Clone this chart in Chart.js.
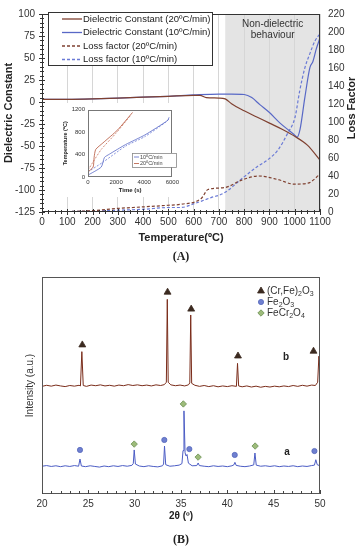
<!DOCTYPE html>
<html>
<head>
<meta charset="utf-8">
<script src="https://cdn.jsdelivr.net/npm/chart.js@4.4.0/dist/chart.umd.min.js"></script>
<style>
  html, body { margin: 0; padding: 0; background: #fff; }
  body { width: 362px; height: 550px; position: relative; overflow: hidden; font-family: "Liberation Sans", Arial, sans-serif; }
  .box { position: absolute; }
  #boxA { left: 0; top: 0; width: 362px; height: 250px; }
  #boxIn { left: 60px; top: 103px; width: 121px; height: 94px; background: #fff; }
  #boxB { left: 0; top: 262px; width: 362px; height: 288px; }
  .tag { position: absolute; left: 0; width: 362px; text-align: center; font: bold 12px "Liberation Serif", serif; color: #222; }
</style>
</head>
<body>
<div class="box" id="boxA"><canvas id="chartA" width="362" height="250"></canvas></div>
<div class="box" id="boxIn"><canvas id="chartIn" width="121" height="94"></canvas></div>
<div class="tag" style="top:249px">(A)</div>
<div class="box" id="boxB"><canvas id="chartB" width="362" height="288"></canvas></div>
<div class="tag" style="top:532px">(B)</div>

<script>
// ---------- (A) dielectric properties vs temperature ----------
const tempDC20 = [0, 100, 200, 300, 400, 500, 600, 625, 650, 700, 725, 750, 800, 850, 900, 950, 1000, 1050, 1100];
const dc20     = [3, 3, 3.5, 4.5, 5.5, 6.5, 7.5, 7.5, 5, 4.5, 3.5, -2, -10, -17, -24, -31, -39, -49, -66];

const tempDC10 = [0, 100, 200, 300, 400, 500, 600, 700, 750, 800, 830, 862, 900, 942, 980, 1001, 1009, 1021, 1040, 1060, 1072, 1085, 1100];
const dc10     = [3, 3, 3.5, 4.5, 5.5, 6.5, 8, 9, 9, 8.5, 5, -3, -12, -24, -33, -38, -40, -31, 5, 39, 46, 60, 73];

const tempLF20 = [0, 100, 200, 300, 360, 500, 550, 630, 657, 720, 795, 855, 934, 997, 1052, 1100];
const lf20     = [0, 0.5, 1.5, 4, 5, 7.5, 8.6, 15, 25, 27, 36, 40, 36, 31, 32, 42];

const tempLF10 = [0, 100, 200, 300, 400, 500, 550, 600, 669, 720, 795, 850, 898, 934, 973, 1001, 1020, 1040, 1060, 1080, 1100];
const lf10     = [0, 0.5, 1, 2, 3, 5, 5, 9, 16, 21, 38, 50, 59, 69, 88, 105, 135, 160, 176, 190, 198];

const bandStart = 725;
const labelsA = ['Dielectric Constant (20ºC/min)', 'Dielectric Constant (10ºC/min)', 'Loss factor (20ºC/min)', 'Loss factor (10ºC/min)'];

// inset: heating curves
const timeR20 = [0, 365, 434, 550, 1055, 2090, 3170];
const tR20    = [91, 177, 348, 491, 605, 834, 1149];
const timeR20d = [0, 345, 944, 1980, 3010];
const tR20d    = [120, 262, 491, 777, 1091];
const timeR10 = [0, 940, 1170, 1520, 2670, 4050, 5660, 5770];
const tR10    = [34, 177, 348, 406, 577, 749, 1006, 1063];
const timeR10d = [0, 1055, 2670, 4050, 5540, 5770];
const tR10d    = [91, 262, 549, 720, 977, 1034];
const labelsIn = ['10ºC/min', '20ºC/min'];

// ---------- (B) XRD patterns ----------
const thetaB = [20.0, 20.5, 21.0, 21.5, 22.0, 22.5, 23.0, 23.5, 24.0, 24.15, 24.3, 24.45, 24.8, 25.3, 25.8, 26.3, 26.8, 27.3, 27.8, 28.3,
  28.8, 29.3, 29.8, 30.3, 30.8, 31.3, 31.8, 32.3, 32.8, 33.2, 33.42, 33.52, 33.62, 33.9, 34.4, 34.9, 35.4, 35.8, 35.95, 36.05,
  36.15, 36.5, 37.0, 37.5, 38.0, 38.5, 39.0, 39.5, 40.0, 40.5, 40.98, 41.1, 41.22, 41.6, 42.1, 42.6, 43.1, 43.6, 44.1, 44.6,
  45.1, 45.6, 46.1, 46.6, 47.1, 47.6, 48.1, 48.6, 49.1, 49.5, 49.75, 49.88, 50.0];
const intB = [49.6, 50.1, 49.7, 50.2, 49.8, 49.5, 50.0, 49.7, 50.1, 49.8, 65.6, 50.0, 49.6, 50.2, 49.9, 50.3, 49.8, 50.1, 49.7, 50.2,
  49.9, 50.4, 50.0, 50.3, 49.9, 50.2, 49.8, 50.3, 50.0, 50.4, 51.5, 89.7, 51.5, 50.3, 49.9, 50.2, 49.8, 50.3, 51.2, 82.5,
  51.0, 50.1, 49.6, 50.0, 49.5, 49.9, 49.4, 49.8, 49.5, 49.9, 49.6, 60.2, 49.8, 49.4, 49.8, 49.3, 49.7, 49.2, 49.6, 49.3,
  49.7, 49.4, 49.8, 49.5, 50.0, 49.6, 50.1, 49.7, 50.2, 50.0, 51.5, 63.5, 57];

const thetaA = [20.0, 20.5, 21.0, 21.5, 22.0, 22.5, 23.0, 23.5, 23.95, 24.1, 24.25, 24.7, 25.2, 25.7, 26.2, 26.7, 27.2, 27.7, 28.2, 28.7,
  29.2, 29.7, 29.85, 29.95, 30.08, 30.5, 31.0, 31.5, 32.0, 32.5, 33.0, 33.12, 33.22, 33.35, 33.8, 34.3, 34.8, 35.1, 35.22, 35.32,
  35.44, 35.55, 35.65, 35.8, 36.2, 36.7, 36.85, 36.98, 37.5, 38.0, 38.5, 39.0, 39.5, 40.0, 40.5, 40.7, 40.82, 40.95, 41.4, 41.9,
  42.4, 42.85, 42.98, 43.12, 43.6, 44.1, 44.6, 45.1, 45.6, 46.1, 46.6, 47.1, 47.6, 48.1, 48.6, 49.1, 49.4, 49.55, 49.7, 50.0];
const intA = [12.8, 13.1, 12.7, 13.0, 12.6, 13.0, 12.7, 13.1, 12.8, 16.1, 12.9, 12.6, 13.0, 12.7, 12.4, 12.9, 12.6, 13.0, 12.7, 13.1,
  12.8, 13.2, 14.0, 20.3, 13.8, 12.9, 12.6, 13.0, 12.7, 12.5, 13.0, 13.8, 22.1, 13.5, 12.8, 13.0, 13.3, 14.0, 20.0, 38.3,
  19.0, 17.5, 18.2, 14.2, 13.0, 13.1, 14.3, 13.1, 12.8, 12.6, 13.0, 12.7, 12.9, 12.6, 13.0, 13.4, 14.6, 13.2, 12.8, 12.6,
  12.9, 13.4, 18.9, 13.3, 12.8, 13.0, 12.7, 13.0, 12.6, 12.9, 12.7, 13.0, 12.6, 12.9, 12.7, 13.1, 13.3, 15.8, 13.5, 13.0];

// phase markers
const triTheta = [24.35, 33.55, 36.1, 41.15, 49.3];
const triY     = [68.7, 93.0, 85.2, 63.6, 65.8];
const cirTheta = [24.1, 33.2, 35.9, 40.8, 49.4];
const cirY     = [20.3, 24.9, 20.7, 18.0, 19.8];
const diaTheta = [29.95, 35.25, 36.85, 43.0];
const diaY     = [23.0, 41.5, 17.0, 22.1];
const labelsB  = ['(Cr,Fe)_2O_3', 'Fe_2O_3', 'FeCr_2O_4'];

const BROWN = '#7f4030', BLUE = '#5868c6', BLUE_D = '#6a7ad6';
const XRD_B = '#7a2c1a', XRD_A = '#4b5cc4';
const TRI = '#3b2a20', CIR = '#6f80d0', DIA = '#9dbb7a';
const FONT = '"Liberation Sans", Arial, sans-serif';

Chart.defaults.font.family = FONT;
Chart.defaults.color = '#333';
Chart.defaults.animation = false;

const pts = (xs, ys) => xs.map((x, i) => ({ x, y: ys[i] }));
const plain = v => String(v);   // no thousands separator

function lineSet(label, xs, ys, color, dash, axis) {
  return {
    label, data: pts(xs, ys), borderColor: color, borderWidth: 1.2, borderDash: dash,
    pointRadius: 0, cubicInterpolationMode: 'monotone', yAxisID: axis, fill: false
  };
}

// draw a label where "_n" means subscript n
function drawSubText(ctx, txt, x, y, size) {
  txt.split(/(_\d)/).forEach(part => {
    if (!part) return;
    const sub = part[0] === '_';
    const s = sub ? part.slice(1) : part;
    ctx.font = (sub ? size * 0.7 : size) + 'px ' + FONT;
    ctx.fillText(s, x, sub ? y + size * 0.3 : y);
    x += ctx.measureText(s).width;
  });
}

function frame(ctx, a, color) {
  ctx.strokeStyle = color;
  ctx.lineWidth = 1;
  ctx.strokeRect(Math.round(a.left) + 0.5, Math.round(a.top) + 0.5, Math.round(a.right - a.left) - 1, Math.round(a.bottom - a.top) - 1);
}

// ---------- chart A ----------
const decoA = {
  id: 'decoA',
  beforeDraw(chart) {
    const { ctx, chartArea: a, scales } = chart;
    const x0 = scales.x.getPixelForValue(bandStart);
    ctx.save();
    ctx.fillStyle = '#e4e4e4';
    ctx.fillRect(x0, a.top, a.right - x0, a.bottom - a.top);
    ctx.restore();
  },
  afterDraw(chart) {
    const { ctx, chartArea: a, scales } = chart;
    ctx.save();
    frame(ctx, a, '#333');
    // minor ticks on left and bottom axes
    ctx.beginPath();
    for (let v = -125; v <= 100; v += 5) {
      const y = Math.round(scales.y.getPixelForValue(v)) + 0.5, len = v % 25 === 0 ? 3 : 2;
      ctx.moveTo(a.left - len, y); ctx.lineTo(a.left + len, y);
    }
    for (let v = 0; v <= 1100; v += 25) {
      const x = Math.round(scales.x.getPixelForValue(v)) + 0.5, len = v % 100 === 0 ? 3 : 2;
      ctx.moveTo(x, a.bottom - len); ctx.lineTo(x, a.bottom + len);
    }
    ctx.stroke();

    // band caption
    const x0 = scales.x.getPixelForValue(bandStart);
    ctx.fillStyle = '#333';
    ctx.font = '10px ' + FONT;
    ctx.textAlign = 'center';
    ctx.textBaseline = 'middle';
    ctx.fillText('Non-dielectric', (x0 + a.right) / 2, 24);
    ctx.fillText('behaviour', (x0 + a.right) / 2, 35);

    // legend
    ctx.fillStyle = '#fff';
    ctx.fillRect(48, 12, 164, 53);
    ctx.strokeStyle = '#333';
    ctx.strokeRect(48.5, 12.5, 164, 53);
    ctx.textAlign = 'left';
    ctx.font = '9.5px ' + FONT;
    const rows = [19, 32.5, 46, 59.5];
    chart.data.datasets.forEach((ds, i) => {
      ctx.strokeStyle = ds.borderColor;
      ctx.lineWidth = 1.3;
      ctx.setLineDash(ds.borderDash || []);
      ctx.beginPath(); ctx.moveTo(62, rows[i]); ctx.lineTo(82, rows[i]); ctx.stroke();
      ctx.setLineDash([]);
      ctx.fillStyle = '#222';
      ctx.fillText(labelsA[i], 83, rows[i]);
    });

    // right axis title, reading upwards
    ctx.translate(352, 108);
    ctx.rotate(-Math.PI / 2);
    ctx.textAlign = 'center';
    ctx.font = 'bold 11px ' + FONT;
    ctx.fillStyle = '#222';
    ctx.fillText('Loss Factor', 0, 0);
    ctx.restore();
  }
};

new Chart(document.getElementById('chartA'), {
  type: 'line',
  data: {
    datasets: [
      lineSet(labelsA[0], tempDC20, dc20, BROWN, [], 'y'),
      lineSet(labelsA[1], tempDC10, dc10, BLUE, [], 'y'),
      lineSet(labelsA[2], tempLF20, lf20, BROWN, [3, 2], 'y2'),
      lineSet(labelsA[3], tempLF10, lf10, BLUE_D, [3, 2], 'y2')
    ]
  },
  options: {
    responsive: false,
    devicePixelRatio: 1,
    layout: { padding: { top: 7, left: 0, right: 0, bottom: 0 } },
    plugins: { legend: { display: false }, tooltip: { enabled: false } },
    scales: {
      x: {
        type: 'linear', min: 0, max: 1100,
        ticks: { stepSize: 100, padding: 4, font: { size: 10 }, color: '#333', autoSkip: false, maxRotation: 0, callback: plain },
        grid: { color: '#d6d6d6', drawTicks: false },
        border: { display: false },
        title: { display: true, text: 'Temperature(ºC)', font: { size: 11, weight: 'bold' }, color: '#222', padding: { top: 0, bottom: 5 } },
        afterFit: s => { s.height = 38; }
      },
      y: {
        position: 'left', min: -125, max: 100,
        ticks: { stepSize: 25, padding: 7, font: { size: 10 }, color: '#333', callback: plain },
        grid: { display: false, drawTicks: false },
        border: { display: false },
        title: { display: true, text: 'Dielectric Constant', font: { size: 11, weight: 'bold' }, color: '#222', padding: { top: 2, bottom: 0 } },
        afterFit: s => { s.width = 42; }
      },
      y2: {
        position: 'right', min: 0, max: 220,
        ticks: { stepSize: 20, padding: 8, font: { size: 10 }, color: '#333', callback: plain },
        grid: { display: false, drawTicks: false },
        border: { display: false },
        afterFit: s => { s.width = 42; }
      }
    }
  },
  plugins: [decoA]
});

// ---------- inset ----------
const decoIn = {
  id: 'decoIn',
  afterDraw(chart) {
    const { ctx, chartArea: a } = chart;
    ctx.save();
    frame(ctx, a, '#777');
    ctx.fillStyle = '#fff';
    ctx.fillRect(72, 50, 45, 14);
    ctx.strokeStyle = '#888';
    ctx.lineWidth = 0.8;
    ctx.strokeRect(72.5, 50.5, 44, 14);
    ctx.font = '5.5px ' + FONT;
    ctx.textBaseline = 'middle';
    const rows = [54, 60.5];
    [BLUE, '#b5543a'].forEach((c, i) => {
      ctx.strokeStyle = c;
      ctx.beginPath(); ctx.moveTo(74, rows[i]); ctx.lineTo(79, rows[i]); ctx.stroke();
      ctx.fillStyle = '#444';
      ctx.fillText(labelsIn[i], 80, rows[i]);
    });
    ctx.restore();
  }
};

function inSet(xs, ys, color, dash) {
  return { data: pts(xs, ys), borderColor: color, borderWidth: 0.8, borderDash: dash, pointRadius: 0, tension: 0.2 };
}

new Chart(document.getElementById('chartIn'), {
  type: 'line',
  data: {
    datasets: [
      inSet(timeR20, tR20, '#b5543a', []),
      inSet(timeR20d, tR20d, '#c87058', [2, 1.5]),
      inSet(timeR10, tR10, BLUE, []),
      inSet(timeR10d, tR10d, BLUE_D, [2, 1.5])
    ]
  },
  options: {
    responsive: false,
    devicePixelRatio: 1,
    layout: { padding: { top: 4, right: 5, left: 0, bottom: 0 } },
    plugins: { legend: { display: false }, tooltip: { enabled: false } },
    scales: {
      x: {
        type: 'linear', min: 0, max: 6000,
        ticks: { stepSize: 2000, padding: 2, font: { size: 6 }, color: '#333', autoSkip: false, maxRotation: 0, callback: plain },
        grid: { display: false, drawTicks: false },
        border: { display: false },
        title: { display: true, text: 'Time (s)', font: { size: 6, weight: 'bold' }, color: '#222', padding: { top: 0, bottom: 3 } },
        afterFit: s => { s.height = 20; }
      },
      y: {
        min: 0, max: 1200,
        ticks: { stepSize: 400, padding: 3, font: { size: 6 }, color: '#333', autoSkip: false, callback: plain },
        grid: { display: false, drawTicks: false },
        border: { display: false },
        title: { display: true, text: 'Temperature (ºC)', font: { size: 5.5, weight: 'bold' }, color: '#222', padding: { top: 2, bottom: 0 } },
        afterFit: s => { s.width = 28; }
      }
    }
  },
  plugins: [decoIn]
});

// ---------- chart B ----------
const decoB = {
  id: 'decoB',
  afterDraw(chart) {
    const { ctx, chartArea: a, scales } = chart;
    ctx.save();
    frame(ctx, a, '#555');
    ctx.strokeStyle = '#444';
    ctx.beginPath();
    for (let v = 20; v <= 50; v += 1) {
      const x = Math.round(scales.x.getPixelForValue(v)) + 0.5;
      ctx.moveTo(x, a.bottom); ctx.lineTo(x, a.bottom - (v % 5 === 0 ? 4 : 3));
    }
    ctx.stroke();

    // legend
    const lx = 261, rows = [291 - 262, 302 - 262, 313 - 262];
    const styles = ['triangle', 'circle', 'rectRot'];
    const fills = [TRI, CIR, DIA];
    const strokes = [TRI, '#5567bb', '#6a8f52'];
    const sizes = [4, 2.6, 3.2];
    ctx.textBaseline = 'middle';
    rows.forEach((y, i) => {
      ctx.fillStyle = fills[i];
      ctx.strokeStyle = strokes[i];
      ctx.lineWidth = 0.8;
      Chart.helpers.drawPoint(ctx, { pointStyle: styles[i], radius: sizes[i], borderWidth: 0.8 }, lx, y);
      ctx.fillStyle = '#333';
      drawSubText(ctx, labelsB[i], 267, y, 10);
    });

    // pattern captions
    ctx.font = 'bold 10px ' + FONT;
    ctx.fillStyle = '#222';
    ctx.textAlign = 'center';
    ctx.fillText('b', 286, 357 - 262);
    ctx.fillText('a', 287, 452 - 262);
    ctx.restore();
  }
};

function markerSet(xs, ys, style, radius, fill, stroke) {
  return {
    type: 'scatter', data: pts(xs, ys), pointStyle: style, pointRadius: radius,
    backgroundColor: fill, borderColor: stroke, borderWidth: 0.8, showLine: false
  };
}

new Chart(document.getElementById('chartB'), {
  type: 'line',
  data: {
    datasets: [
      { data: pts(thetaB, intB), borderColor: XRD_B, borderWidth: 1, pointRadius: 0, tension: 0 },
      { data: pts(thetaA, intA), borderColor: XRD_A, borderWidth: 1, pointRadius: 0, tension: 0 },
      markerSet(triTheta, triY, 'triangle', 4, TRI, TRI),
      markerSet(cirTheta, cirY, 'circle', 2.6, CIR, '#5567bb'),
      markerSet(diaTheta, diaY, 'rectRot', 3.2, DIA, '#6a8f52')
    ]
  },
  options: {
    responsive: false,
    devicePixelRatio: 1,
    layout: { padding: { top: 15, right: 42, left: 0, bottom: 0 } },
    plugins: { legend: { display: false }, tooltip: { enabled: false } },
    scales: {
      x: {
        type: 'linear', min: 20, max: 50,
        ticks: { stepSize: 5, padding: 4, font: { size: 10 }, color: '#333', autoSkip: false, maxRotation: 0 },
        grid: { display: false, drawTicks: false },
        border: { display: false },
        title: { display: true, text: '2θ (º)', font: { size: 10, weight: 'bold' }, color: '#222', padding: { top: 0, bottom: 28 } },
        afterFit: s => { s.height = 56; }
      },
      y: {
        min: 0, max: 100,
        ticks: { display: false },
        grid: { display: false, drawTicks: false },
        border: { display: false },
        title: { display: true, text: 'Intensity (a.u.)', font: { size: 10 }, color: '#333', padding: { top: 24, bottom: 0 } },
        afterFit: s => { s.width = 42; }
      }
    }
  },
  plugins: [decoB]
});
</script>
</body>
</html>
